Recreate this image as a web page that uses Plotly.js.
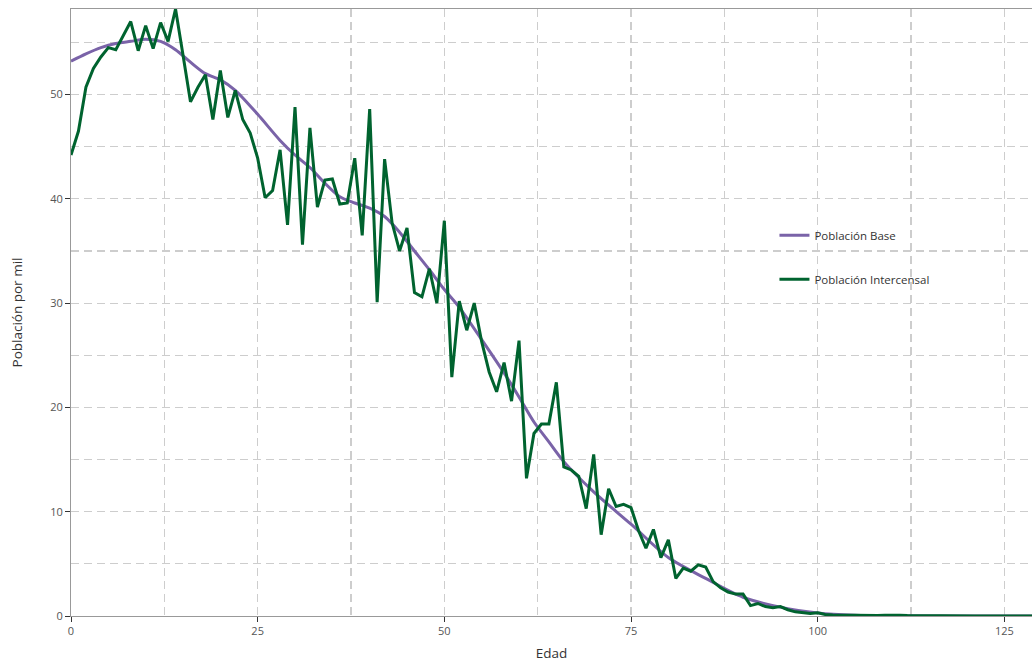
<!DOCTYPE html>
<html>
<head>
<meta charset="utf-8">
<script src="https://cdn.plot.ly/plotly-3.0.1.min.js"></script>
<style>html,body{margin:0;padding:0;background:#fff;}#chart{width:1032px;height:662px;}</style>
</head>
<body>
<div id="chart"></div>
<script>
// Población Intercensal: one value per single age (0..130)
const edadesIntercensal = Array.from({length: 131}, (_, i) => i);
const poblacionIntercensal = [
  44.2, 46.5, 50.7, 52.5, 53.6, 54.5, 54.3, 55.7, 57.0, 54.2,
  56.6, 54.4, 56.9, 55.1, 58.2, 53.8, 49.3, 50.7, 51.9, 47.6,
  52.3, 47.8, 50.4, 47.6, 46.3, 43.9, 40.1, 40.8, 44.7, 37.5,
  48.8, 35.6, 46.8, 39.2, 41.8, 41.9, 39.5, 39.6, 43.9, 36.5,
  48.6, 30.1, 43.8, 37.7, 35.0, 37.2, 31.0, 30.6, 33.3, 30.0,
  37.9, 22.9, 30.2, 27.4, 30.0, 26.3, 23.4, 21.5, 24.3, 20.6,
  26.4, 13.2, 17.5, 18.4, 18.4, 22.4, 14.3, 14.0, 13.4, 10.3,
  15.5, 7.8, 12.2, 10.5, 10.7, 10.4, 8.2, 6.5, 8.3, 5.6,
  7.3, 3.6, 4.6, 4.3, 4.9, 4.7, 3.3, 2.7, 2.3, 2.1,
  2.1, 1.0, 1.2, 0.9, 0.8, 0.9, 0.6, 0.4, 0.35, 0.25,
  0.3, 0.15, 0.1, 0.08, 0.06, 0.05, 0.05, 0.04, 0.04, 0.06,
  0.1, 0.07, 0.04, 0.03, 0.03, 0.02, 0.02, 0.02, 0.01, 0.01,
  0.01, 0.01, 0.01, 0.0, 0.0, 0.0, 0.0, 0.0, 0.0, 0.0,
  0.0
];

// Población Base: smooth curve, read at selected ages
const edadesBase = [0, 2, 4, 6, 8, 10, 12, 14, 16, 18, 20, 22, 25, 28, 30, 32, 34, 36, 38, 40,
  42, 44, 46, 48, 50, 52, 55, 58, 60, 62, 64, 66, 70, 75, 80, 85, 90, 95, 100, 105, 110, 120, 130];
const poblacionBase = [53.2, 53.9, 54.5, 54.9, 55.1, 55.3, 55.1, 54.3, 53.1, 52.0, 51.4, 50.4, 48.1,
  45.6, 44.2, 43.0, 41.5, 40.2, 39.6, 39.1, 38.3, 36.8, 35.0, 33.2, 31.3, 29.6, 26.5, 23.3, 21.0,
  18.6, 16.7, 14.8, 11.9, 8.8, 5.6, 3.6, 1.8, 0.85, 0.3, 0.08, 0.02, 0.0, 0.0];

const nombres = ['Población Base', 'Población Intercensal'];
const colores = ['#7a63a8', '#00632f'];

const FONT = '"Open Sans", "Noto Sans", sans-serif';
const GRID = '#cdcdcd';
const DASH = '8px,5px';

const traces = [
  {x: edadesBase, y: poblacionBase, type: 'scatter', mode: 'lines', name: nombres[0],
   legendgroup: 'a', line: {color: colores[0], width: 3, shape: 'spline', smoothing: 0.8}},
  {x: edadesIntercensal, y: poblacionIntercensal, type: 'scatter', mode: 'lines', name: nombres[1],
   legendgroup: 'b', line: {color: colores[1], width: 3}}
];

const layout = {
  width: 1032, height: 662,
  margin: {l: 71, r: 0, t: 9, b: 46},
  paper_bgcolor: '#fff', plot_bgcolor: '#fff',
  font: {family: FONT, color: '#555', size: 11},
  showlegend: true,
  legend: {x: 0.732, y: 0.651, xanchor: 'left', yanchor: 'top', bgcolor: 'rgba(0,0,0,0)',
    borderwidth: 0, font: {family: FONT, size: 11.5, color: '#333'}, tracegroupgap: 25,
    traceorder: 'grouped'},
  shapes: [{type: 'rect', xref: 'paper', yref: 'paper', x0: 0.702, x1: 0.913, y0: 0.488, y1: 0.713,
    fillcolor: '#fff', line: {width: 0}, layer: 'between'}],
  xaxis: {
    range: [0, 128.7], dtick: 25, tick0: 0,
    showline: true, linecolor: '#999', linewidth: 1, mirror: true,
    ticks: 'outside', ticklen: 5, tickcolor: '#333', tickwidth: 1,
    showgrid: true, gridcolor: GRID, gridwidth: 1.2, griddash: DASH,
    minor: {dtick: 12.5, showgrid: true, gridcolor: GRID, gridwidth: 1.2, griddash: DASH},
    zeroline: false,
    tickfont: {family: FONT, size: 11, color: '#555'},
    title: {text: 'Edad', font: {family: FONT, size: 13.5, color: '#333'}, standoff: 14}
  },
  yaxis: {
    range: [0, 58.2], dtick: 10, tick0: 0,
    showline: true, linecolor: '#999', linewidth: 1,
    ticks: 'outside', ticklen: 5, tickcolor: '#333', tickwidth: 1,
    showgrid: true, gridcolor: GRID, gridwidth: 1.2, griddash: DASH,
    minor: {dtick: 5, showgrid: true, gridcolor: GRID, gridwidth: 1.2, griddash: DASH},
    zeroline: true, zerolinecolor: '#999', zerolinewidth: 1.5,
    tickfont: {family: FONT, size: 11, color: '#555'},
    title: {text: 'Población por mil', font: {family: FONT, size: 13.5, color: '#333'}, standoff: 24}
  }
};

Plotly.newPlot('chart', traces, layout, {displayModeBar: false, staticPlot: true});
</script>
</body>
</html>
